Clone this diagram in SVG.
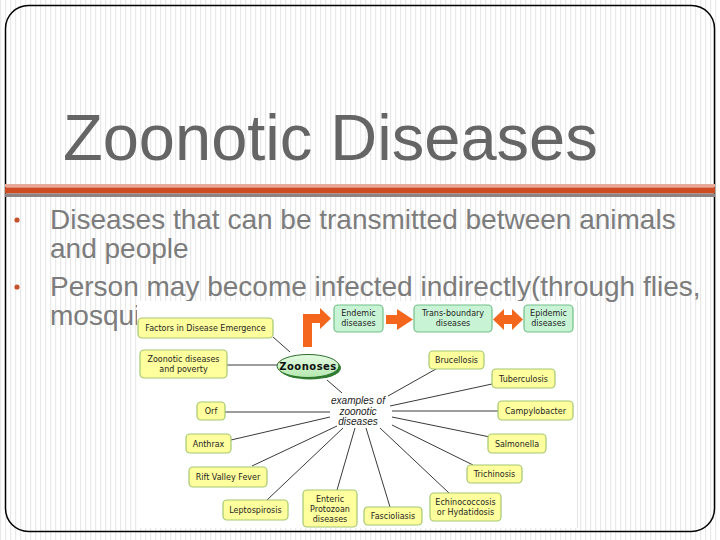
<svg xmlns="http://www.w3.org/2000/svg" width="720" height="540" viewBox="0 0 720 540">
<defs>
<pattern id="stripes" x="0" y="0" width="5" height="10" patternUnits="userSpaceOnUse">
<rect x="0" y="0" width="5" height="10" fill="#ffffff"/>
<rect x="0" y="0" width="1.2" height="10" fill="#e9e9e9"/>
</pattern>
<linearGradient id="ellg" x1="0" y1="0" x2="0" y2="1">
<stop offset="0" stop-color="#e6fbe2"/>
<stop offset="1" stop-color="#b4e8b0"/>
</linearGradient>
<style>
.title{font-family:"Liberation Sans",Arial,sans-serif;font-size:65px;fill:#656565}
.body{font-family:"Liberation Sans",Arial,sans-serif;font-size:28px;fill:#7c7c7c}
.ybox{fill:#ffff9e;stroke:#a4c870;stroke-width:1.2}
.gbox{fill:#c9f3d5;stroke:#72c088;stroke-width:1.2}
.lbl{font-family:"DejaVu Sans",Verdana,sans-serif;font-size:8px;fill:#1e1e1e;text-anchor:middle}
.conn line{stroke:#3a3a3a;stroke-width:1}
.arrow{fill:#f4661b}
.ex{font-family:"Liberation Sans",Arial,sans-serif;font-size:10px;font-style:italic;fill:#222;text-anchor:middle}
</style>
</defs>
<rect x="0" y="0" width="720" height="540" fill="url(#stripes)"/>
<rect x="5.5" y="5.5" width="709" height="526" rx="23" ry="23" fill="none" stroke="#000" stroke-width="1.5"/>
<g id="bars">
<rect x="5" y="184" width="710" height="3.5" fill="#eaa898"/>
<rect x="5" y="187.5" width="710" height="6" fill="#cf4b24"/>
<rect x="5" y="193.5" width="710" height="3.5" fill="#8c8484"/>
</g>
<text id="title" class="title" x="63" y="160">Zoonotic Diseases</text>
<g id="bullets">
<circle cx="17" cy="220" r="2.6" fill="#c4532e"/>
<circle cx="17" cy="287" r="2.6" fill="#c4532e"/>
<text class="body" x="50" y="229">Diseases that can be transmitted between animals</text>
<text class="body" x="50" y="258">and people</text>
<text class="body" x="50" y="296">Person may become infected indirectly(through flies,</text>
<text class="body" x="50" y="325">mosqui</text>
</g>
<rect id="diagram-bg" x="137" y="301" width="441" height="227" fill="#ffffff"/>
<line x1="577.5" y1="301" x2="577.5" y2="528" stroke="#e4e4e4" stroke-width="1"/>
<g id="connectors" class="conn">
<line x1="273" y1="337" x2="290" y2="352"/>
<line x1="227" y1="365" x2="277" y2="365"/>
<line x1="327" y1="380" x2="342" y2="393"/>
<line x1="225" y1="412" x2="330" y2="412"/>
<line x1="231" y1="440" x2="330" y2="417"/>
<line x1="252" y1="466" x2="337" y2="426"/>
<line x1="267" y1="500" x2="343" y2="428"/>
<line x1="337" y1="490" x2="355" y2="428"/>
<line x1="366" y1="428" x2="390" y2="507"/>
<line x1="380" y1="428" x2="449" y2="493"/>
<line x1="392" y1="425" x2="473" y2="465"/>
<line x1="392" y1="417" x2="490" y2="437"/>
<line x1="392" y1="411" x2="498" y2="411"/>
<line x1="390" y1="406" x2="492" y2="384"/>
<line x1="388" y1="396" x2="436" y2="369"/>
</g>
<g id="arrows">
<path class="arrow" d="M303,347 L303,314 L320,314 L320,308 L331,318.5 L320,329 L320,323 L312,323 L312,347 Z"/>
<path class="arrow" d="M386,315 L397,315 L397,309 L413,319.5 L397,330 L397,324 L386,324 Z"/>
<path class="arrow" d="M493,319.5 L504,309 L504,315 L512,315 L512,309 L523,319.5 L512,330 L512,324 L504,324 L504,330 Z"/>
</g>
<g id="n-endemic"><rect class="gbox" x="334" y="305" width="49" height="27" rx="4"/><text class="lbl" x="358.5" y="316">Endemic</text><text class="lbl" x="358.5" y="326">diseases</text></g>
<g id="n-transboundary"><rect class="gbox" x="414" y="305" width="78" height="27" rx="4"/><text class="lbl" x="453" y="316">Trans-boundary</text><text class="lbl" x="453" y="326">diseases</text></g>
<g id="n-epidemic"><rect class="gbox" x="524" y="305" width="49" height="27" rx="4"/><text class="lbl" x="548.5" y="316">Epidemic</text><text class="lbl" x="548.5" y="326">diseases</text></g>
<g id="n-zoonoses">
<ellipse cx="310" cy="368" rx="31" ry="11.5" fill="#2f7d2f"/>
<ellipse cx="308" cy="366" rx="31" ry="11.5" fill="url(#ellg)" stroke="#2a6e2a" stroke-width="1"/>
<text x="308" y="370" font-family="DejaVu Sans,Verdana,sans-serif" font-size="10px" font-weight="bold" letter-spacing="0.5" fill="#111" text-anchor="middle">Zoonoses</text>
</g>
<g id="n-examples"><text class="ex" x="358" y="404">examples of</text><text class="ex" x="358" y="414.5">zoonotic</text><text class="ex" x="358" y="425">diseases</text></g>
<g id="n-factors"><rect class="ybox" x="138" y="318" width="135" height="20" rx="4"/><text class="lbl" x="205.5" y="331">Factors in Disease Emergence</text></g>
<g id="n-poverty"><rect class="ybox" x="140" y="350" width="87" height="28" rx="4"/><text class="lbl" x="183.5" y="361.5">Zoonotic diseases</text><text class="lbl" x="183.5" y="371.5">and poverty</text></g>
<g id="n-orf"><rect class="ybox" x="197" y="402" width="28" height="18" rx="4"/><text class="lbl" x="211" y="414">Orf</text></g>
<g id="n-anthrax"><rect class="ybox" x="186" y="434" width="45" height="19" rx="4"/><text class="lbl" x="208.5" y="446.5">Anthrax</text></g>
<g id="n-rift"><rect class="ybox" x="189" y="467" width="78" height="20" rx="4"/><text class="lbl" x="228" y="480">Rift Valley Fever</text></g>
<g id="n-lepto"><rect class="ybox" x="223" y="500" width="65" height="20" rx="4"/><text class="lbl" x="255.5" y="513">Leptospirosis</text></g>
<g id="n-enteric"><rect class="ybox" x="303" y="490" width="54" height="37" rx="4"/><text class="lbl" x="330" y="502">Enteric</text><text class="lbl" x="330" y="512">Protozoan</text><text class="lbl" x="330" y="522">diseases</text></g>
<g id="n-fasciol"><rect class="ybox" x="364" y="507" width="58" height="18" rx="4"/><text class="lbl" x="393" y="519">Fascioliasis</text></g>
<g id="n-echino"><rect class="ybox" x="430" y="493" width="71" height="28" rx="4"/><text class="lbl" x="465.5" y="504.5">Echinococcosis</text><text class="lbl" x="465.5" y="514.5">or Hydatidosis</text></g>
<g id="n-trichin"><rect class="ybox" x="467" y="465" width="55" height="18" rx="4"/><text class="lbl" x="494.5" y="477">Trichinosis</text></g>
<g id="n-salmon"><rect class="ybox" x="488" y="434" width="58" height="19" rx="4"/><text class="lbl" x="517" y="446.5">Salmonella</text></g>
<g id="n-campy"><rect class="ybox" x="498" y="401" width="75" height="19" rx="4"/><text class="lbl" x="535.5" y="413.5">Campylobacter</text></g>
<g id="n-tuber"><rect class="ybox" x="492" y="369" width="63" height="19" rx="4"/><text class="lbl" x="523.5" y="381.5">Tuberculosis</text></g>
<g id="n-brucel"><rect class="ybox" x="429" y="351" width="55" height="18" rx="4"/><text class="lbl" x="456.5" y="363">Brucellosis</text></g>
</svg>
